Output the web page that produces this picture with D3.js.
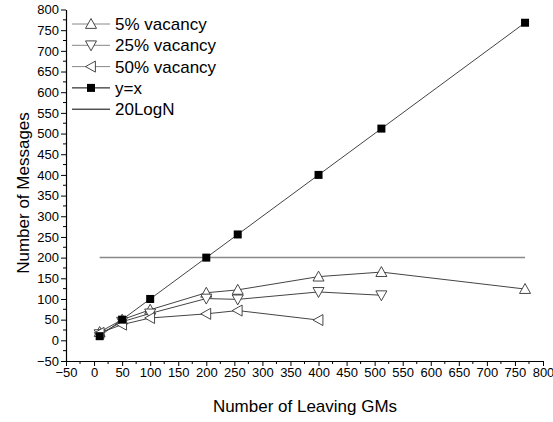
<!DOCTYPE html>
<html>
<head>
<meta charset="utf-8">
<script src="https://cdn.jsdelivr.net/npm/d3@7"></script>
<style>
  body { margin: 0; background: #fff; }
  svg { display: block; font-family: "Liberation Sans", Arial, sans-serif; }
</style>
</head>
<body>
<script>
const chartWidth = 553;
const chartHeight = 422;

const margin = { top: 9.5, right: 10, bottom: 61, left: 66 };
const plotWidth = 543 - margin.left;
const plotHeight = 361 - margin.top;

// data
const leavingGMs = [10, 50, 100, 200, 256, 400, 512, 768];
const vacancy5 = [20, 50, 74, 115, 122, 154, 165, 124];
const vacancy25 = [15, 45, 65, 101, 99, 117, 109];
const vacancy50 = [18, 38, 54, 64, 72, 49];
const identity = [10, 50, 100, 200, 256, 400, 512, 768];
const logLineX = [10, 768];
const logLineY = [200, 200];

const tickValues = d3.range(-50, 801, 50);
const minorTicks = d3.range(-25, 800, 50);

const series = [
  { label: '5% vacancy', y: vacancy5, symbol: 'up' },
  { label: '25% vacancy', y: vacancy25, symbol: 'down' },
  { label: '50% vacancy', y: vacancy50, symbol: 'left' },
  { label: 'y=x', y: identity, symbol: 'square' },
  { label: '20LogN', x: logLineX, y: logLineY, symbol: 'none' }
];

const svg = d3.select('body').append('svg')
  .attr('width', chartWidth)
  .attr('height', chartHeight);

const xScale = d3.scaleLinear().domain([-50, 800]).range([0, plotWidth]);
const yScale = d3.scaleLinear().domain([-50, 800]).range([plotHeight, 0]);

const container = svg.append('g')
  .attr('transform', `translate(${margin.left},${margin.top})`);

// axes
const xAxis = d3.axisBottom(xScale).tickValues(tickValues).tickSize(5).tickSizeOuter(0).tickPadding(2);
const yAxis = d3.axisLeft(yScale).tickValues(tickValues).tickSize(5).tickSizeOuter(0).tickPadding(2);

const gx = container.append('g')
  .attr('transform', `translate(0,${plotHeight})`)
  .call(xAxis);
minorTicks.forEach(v => {
  gx.append('line')
    .attr('x1', xScale(v)).attr('x2', xScale(v))
    .attr('y1', 0).attr('y2', 3)
    .attr('stroke', '#000');
});

const gy = container.append('g').call(yAxis);
minorTicks.forEach(v => {
  gy.append('line')
    .attr('y1', yScale(v)).attr('y2', yScale(v))
    .attr('x1', 0).attr('x2', -3)
    .attr('stroke', '#000');
});

container.selectAll('.domain').attr('stroke', '#000').attr('stroke-width', 1.2);
container.selectAll('.tick line').attr('stroke', '#000');
container.selectAll('.tick text').attr('font-size', 13).attr('fill', '#000')
  .attr('font-family', '"Liberation Sans", Arial, sans-serif');

// axis titles
svg.append('text')
  .attr('x', 305)
  .attr('y', 412)
  .attr('text-anchor', 'middle')
  .attr('font-size', 17)
  .text('Number of Leaving GMs');

svg.append('text')
  .attr('transform', 'translate(29,193) rotate(-90)')
  .attr('text-anchor', 'middle')
  .attr('font-size', 17)
  .text('Number of Messages');

// markers
function drawMarker(g, symbol, cx, cy) {
  const r = 5.5;
  if (symbol === 'up') {
    g.append('path')
      .attr('d', `M${cx},${cy - r}L${cx + r},${cy + r * 0.8}L${cx - r},${cy + r * 0.8}Z`)
      .attr('fill', '#fff').attr('stroke', '#333').attr('stroke-width', 0.9);
  } else if (symbol === 'down') {
    g.append('path')
      .attr('d', `M${cx},${cy + r}L${cx + r},${cy - r * 0.8}L${cx - r},${cy - r * 0.8}Z`)
      .attr('fill', '#fff').attr('stroke', '#333').attr('stroke-width', 0.9);
  } else if (symbol === 'left') {
    g.append('path')
      .attr('d', `M${cx - r},${cy}L${cx + r * 0.8},${cy - r}L${cx + r * 0.8},${cy + r}Z`)
      .attr('fill', '#fff').attr('stroke', '#333').attr('stroke-width', 0.9);
  } else if (symbol === 'square') {
    g.append('rect')
      .attr('x', cx - 4).attr('y', cy - 4)
      .attr('width', 8).attr('height', 8)
      .attr('fill', '#000');
  }
}

// lines
const linesContainer = container.append('g');
series.forEach(s => {
  const xs = s.x || leavingGMs;
  const pts = s.y.map((v, i) => [xs[i], v]);
  const line = d3.line().x(d => xScale(d[0])).y(d => yScale(d[1]));
  linesContainer.append('path')
    .attr('d', line(pts))
    .attr('fill', 'none')
    .attr('stroke', s.symbol === 'none' ? '#888' : '#444')
    .attr('stroke-width', s.symbol === 'none' ? 1.5 : 1);
});

// markers on top
const markersContainer = container.append('g');
series.forEach(s => {
  const xs = s.x || leavingGMs;
  s.y.forEach((v, i) => drawMarker(markersContainer, s.symbol, xScale(xs[i]), yScale(v)));
});

// legend
const keyElementHeight = 21.3;
const legend = svg.append('g').attr('transform', 'translate(72,24)');
series.forEach((s, i) => {
  const g = legend.append('g').attr('transform', `translate(0,${i * keyElementHeight})`);
  g.append('line')
    .attr('x1', 0).attr('x2', 38)
    .attr('y1', 0).attr('y2', 0)
    .attr('stroke', s.symbol === 'square' || s.symbol === 'none' ? '#000' : '#888')
    .attr('stroke-width', 1);
  drawMarker(g, s.symbol, 19, 0);
  g.append('text')
    .attr('x', 43)
    .attr('y', 6)
    .attr('font-size', 17)
    .text(s.label);
});
</script>
</body>
</html>
